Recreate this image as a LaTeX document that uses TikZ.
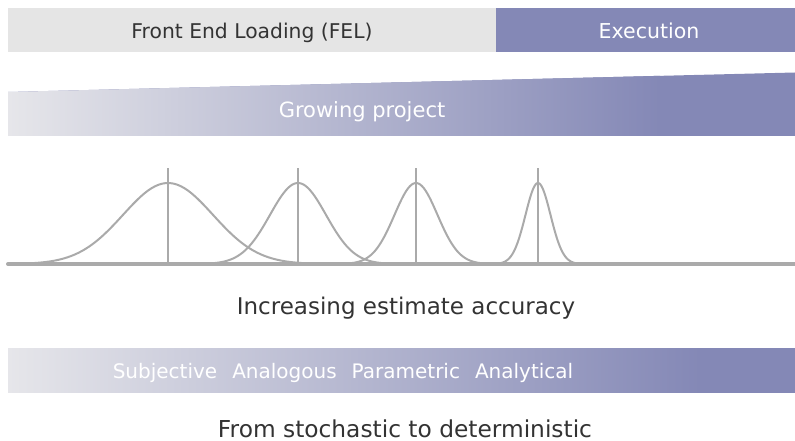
\documentclass[tikz,border=0pt]{standalone}
\usepackage{fontspec}
\setmainfont{DejaVu Sans}
\definecolor{phase}{HTML}{8488B6}
\definecolor{feltint}{HTML}{E5E5E5}
\definecolor{fade}{HTML}{E6E6EA}
\definecolor{curve}{HTML}{AAAAAA}
\definecolor{ink}{HTML}{333333}
\tikzset{
  bell/.style={curve, line width=2pt},
  label/.style={inner sep=0pt, anchor=base},
  darklabel/.style={label, text=ink},
  lightlabel/.style={label, text=white},
  fs/.style={font=\fontsize{#1}{#1}\selectfont},
}
\newcommand{\gap}{\hspace{0.75em}}
\begin{document}
\begin{tikzpicture}[x=1pt,y=-1pt]
\useasboundingbox (0,0) rectangle (795,441);

% phase bar
\fill[feltint] (8,8) rectangle (496,52);
\fill[phase] (496,8) rectangle (795,52);
\node[darklabel, fs=20.3] (fel) at (252,38.5) {Front End Loading (FEL)};
\node[lightlabel, fs=20.5] (exec) at (649,38.5) {Execution};

% growing project wedge
\begin{scope}
  \clip (8,92) -- (795,72.5) -- (795,136) -- (8,136) -- cycle;
  \fill[phase] (8,60) rectangle (795,136);
  \shade[left color=fade, right color=phase] (8,60) rectangle (660,136);
\end{scope}
\node[lightlabel, fs=21] (grow) at (362,118) {Growing project};

% estimate distributions
\foreach \c/\s in {168/45, 298/28, 416/21.5, 538/12.5}{
  \draw[bell] plot[domain=-3.2:3.2, samples=80, smooth]
    ({\c+\x*\s},{264-81*exp(-0.5*\x*\x)});
  \draw[bell] (\c,168) -- (\c,264);
}
\coordinate (axisL) at (8,264);
\coordinate (axisR) at (795,264);
\draw[curve, line width=4pt, line cap=round] (axisL) -- (axisR);
\node[darklabel, fs=23] (acc) at (406,314) {Increasing estimate accuracy};

% estimate method bar
\begin{scope}
  \clip (8,348) rectangle (795,392);
  \fill[phase] (8,340) rectangle (795,400);
  \shade[left color=fade, right color=phase] (8,340) rectangle (700,400);
\end{scope}
\node[lightlabel, fs=20] (methods) at (343,378) {Subjective\gap Analogous\gap Parametric\gap Analytical};
\node[darklabel, fs=23.3] (det) at (405,437) {From stochastic to deterministic};
\end{tikzpicture}
\end{document}
